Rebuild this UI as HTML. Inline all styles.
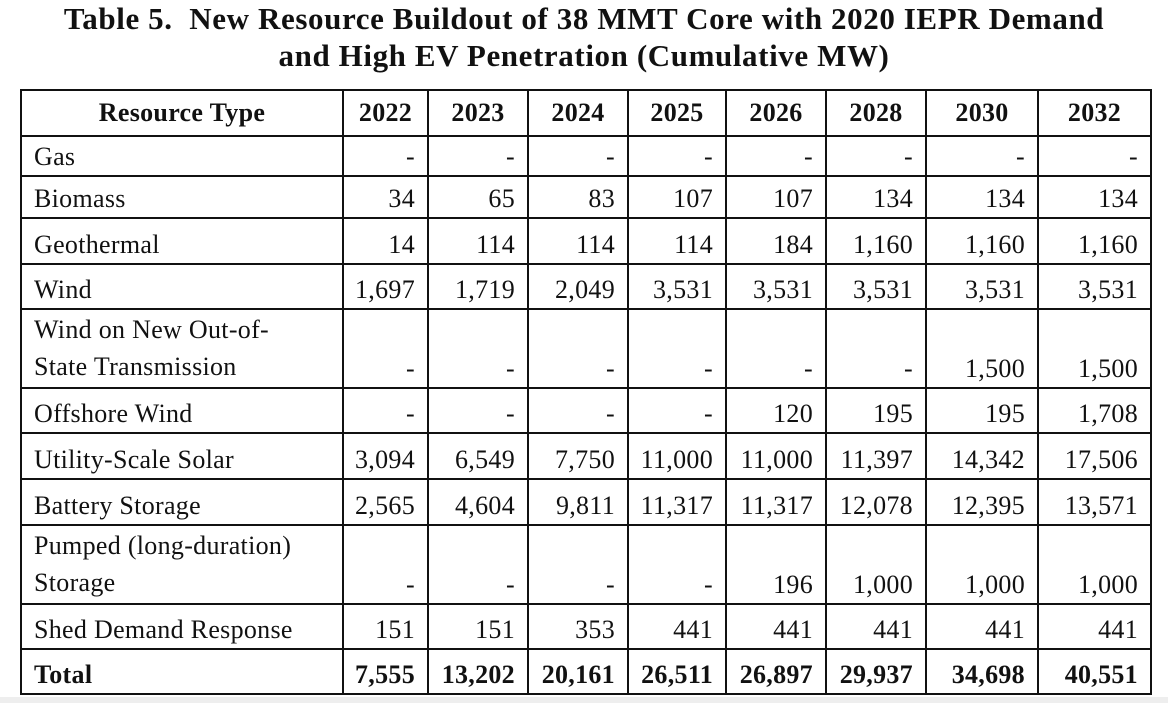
<!DOCTYPE html>
<html><head><meta charset="utf-8"><style>
html,body{margin:0;padding:0;background:#fff;}
body{width:1168px;height:703px;position:relative;overflow:hidden;font-family:"Liberation Serif",serif;color:#111;}
.title{position:absolute;left:0;width:1168px;text-align:center;font-weight:bold;font-size:31px;letter-spacing:0.6px;line-height:37px;top:0px;}
table{position:absolute;left:20px;top:89px;border-collapse:collapse;table-layout:fixed;width:1130px;font-size:26px;letter-spacing:0.3px;}
td{border:2px solid #111;padding:0 12px 2px 8px;vertical-align:bottom;text-align:right;white-space:nowrap;line-height:32px;overflow:hidden;}
td:first-child{text-align:left;padding-left:12px;}
tr.h td{font-weight:bold;text-align:center;vertical-align:middle;padding:0;}
tr.t td{font-weight:bold;}
td.two{line-height:37px;}
.bar{position:absolute;left:0;top:697px;width:1168px;height:6px;background:#eee;}
</style></head><body>
<div class="title">Table 5.&nbsp; New Resource Buildout of 38 MMT Core with 2020 IEPR Demand<br>and High EV Penetration (Cumulative MW)</div>
<table>
<colgroup><col style="width:322px"><col style="width:85px"><col style="width:100px"><col style="width:100px"><col style="width:98px"><col style="width:100px"><col style="width:100px"><col style="width:112px"><col style="width:113px"></colgroup>
<tr class="h" style="height:46px"><td style="text-align:center">Resource Type</td><td>2022</td><td>2023</td><td>2024</td><td>2025</td><td>2026</td><td>2028</td><td>2030</td><td>2032</td></tr>
<tr style="height:40px"><td>Gas</td><td>-</td><td>-</td><td>-</td><td>-</td><td>-</td><td>-</td><td>-</td><td>-</td></tr>
<tr style="height:42px"><td>Biomass</td><td>34</td><td>65</td><td>83</td><td>107</td><td>107</td><td>134</td><td>134</td><td>134</td></tr>
<tr style="height:46px"><td>Geothermal</td><td>14</td><td>114</td><td>114</td><td>114</td><td>184</td><td>1,160</td><td>1,160</td><td>1,160</td></tr>
<tr style="height:45px"><td>Wind</td><td>1,697</td><td>1,719</td><td>2,049</td><td>3,531</td><td>3,531</td><td>3,531</td><td>3,531</td><td>3,531</td></tr>
<tr style="height:79px"><td class="two">Wind on New Out-of-<br>State Transmission</td><td>-</td><td>-</td><td>-</td><td>-</td><td>-</td><td>-</td><td>1,500</td><td>1,500</td></tr>
<tr style="height:45px"><td>Offshore Wind</td><td>-</td><td>-</td><td>-</td><td>-</td><td>120</td><td>195</td><td>195</td><td>1,708</td></tr>
<tr style="height:46px"><td>Utility-Scale Solar</td><td>3,094</td><td>6,549</td><td>7,750</td><td>11,000</td><td>11,000</td><td>11,397</td><td>14,342</td><td>17,506</td></tr>
<tr style="height:46px"><td>Battery Storage</td><td>2,565</td><td>4,604</td><td>9,811</td><td>11,317</td><td>11,317</td><td>12,078</td><td>12,395</td><td>13,571</td></tr>
<tr style="height:79px"><td class="two">Pumped (long-duration)<br>Storage</td><td>-</td><td>-</td><td>-</td><td>-</td><td>196</td><td>1,000</td><td>1,000</td><td>1,000</td></tr>
<tr style="height:45px"><td>Shed Demand Response</td><td>151</td><td>151</td><td>353</td><td>441</td><td>441</td><td>441</td><td>441</td><td>441</td></tr>
<tr class="t" style="height:45px"><td>Total</td><td>7,555</td><td>13,202</td><td>20,161</td><td>26,511</td><td>26,897</td><td>29,937</td><td>34,698</td><td>40,551</td></tr>
</table>
<div class="bar"></div>
</body></html>
